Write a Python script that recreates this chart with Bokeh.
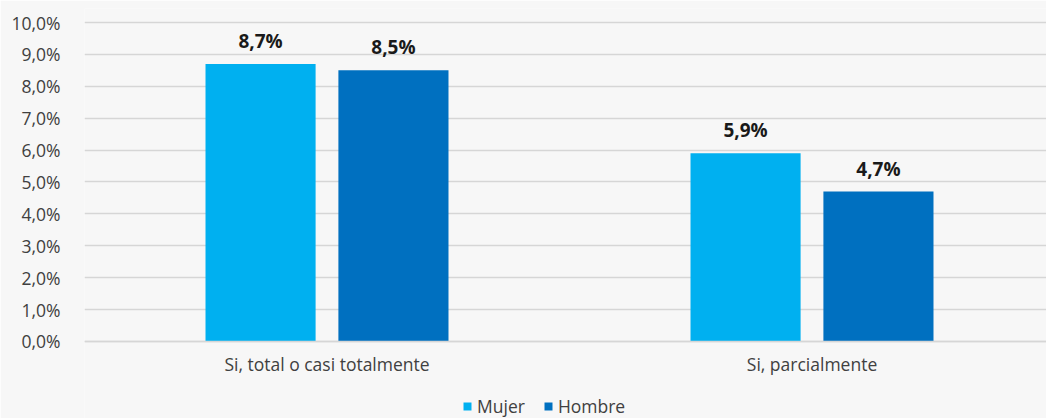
from bokeh.plotting import figure
from bokeh.models import ColumnDataSource, FixedTicker, Legend, LegendItem, Range1d
from bokeh.core.properties import value
from bokeh.embed import file_html
from bokeh.resources import INLINE

categories = ["Si, total o casi totalmente", "Si, parcialmente"]
series_names = ["Mujer", "Hombre"]
mujer = [8.7, 5.9]
hombre = [8.5, 4.7]
label_mujer = ["8,7%", "5,9%"]
label_hombre = ["8,5%", "4,7%"]
y_ticks = [0, 1, 2, 3, 4, 5, 6, 7, 8, 9, 10]
y_tick_labels = ["0,0%", "1,0%", "2,0%", "3,0%", "4,0%", "5,0%", "6,0%", "7,0%", "8,0%", "9,0%", "10,0%"]
colors = ["#00b0f0", "#0070c0"]

BG = "#f7f7f7"
FONT = "Open Sans"
TXT = "#404040"

n = len(categories)
centers = [i + 0.5 for i in range(n)]
bar_w = 0.227
offset = 0.137

p = figure(width=1046, height=418, output_backend="svg", toolbar_location=None,
           x_range=Range1d(0, 1.9835), y_range=Range1d(-2.414, 10.439),
           background_fill_color=BG, border_fill_color=BG,
           min_border_left=84, min_border_right=0, min_border_top=8, min_border_bottom=0,
           outline_line_color=None)

src_m = ColumnDataSource(dict(x=[c - offset for c in centers], top=mujer, lab=label_mujer))
src_h = ColumnDataSource(dict(x=[c + offset for c in centers], top=hombre, lab=label_hombre))

r_m = p.vbar(x="x", top="top", width=bar_w, source=src_m, fill_color=colors[0], line_color=None)
r_h = p.vbar(x="x", top="top", width=bar_w, source=src_h, fill_color=colors[1], line_color=None)

for src in (src_m, src_h):
    p.text(x="x", y="top", text="lab", source=src, text_align="center", text_baseline="alphabetic",
           y_offset=-23, text_font=value(FONT), text_font_size="19px", text_font_style="bold",
           text_color="#1a1a1a")

# grid
p.xgrid.grid_line_color = None
p.ygrid.grid_line_color = "#d6d6d6"
p.ygrid.grid_line_width = 1.5
p.ygrid.ticker = FixedTicker(ticks=y_ticks)

# y axis
p.yaxis.ticker = FixedTicker(ticks=y_ticks)
p.yaxis.major_label_overrides = {t: l for t, l in zip(y_ticks, y_tick_labels)}
p.yaxis.axis_line_color = None
p.yaxis.major_tick_line_color = None
p.yaxis.minor_tick_line_color = None
p.yaxis.major_label_standoff = 18
p.yaxis.major_label_text_font = FONT
p.yaxis.major_label_text_font_size = "17.5px"
p.yaxis.major_label_text_color = TXT

# x axis (fixed at y = 0, inside frame)
p.xaxis.fixed_location = 0
p.xaxis.ticker = FixedTicker(ticks=centers)
p.xaxis.major_label_overrides = {c: l for c, l in zip(centers, categories)}
p.xaxis.axis_line_color = "#d6d6d6"
p.xaxis.axis_line_width = 1.5
p.xaxis.major_tick_line_color = None
p.xaxis.minor_tick_line_color = None
p.xaxis.major_label_standoff = 5
p.xaxis.major_label_text_font = FONT
p.xaxis.major_label_text_font_size = "17.5px"
p.xaxis.major_label_text_color = TXT

legend = Legend(items=[LegendItem(label=series_names[0], renderers=[r_m]),
                       LegendItem(label=series_names[1], renderers=[r_h])],
                orientation="horizontal", location=(378, 0),
                background_fill_alpha=0, border_line_color=None,
                glyph_width=10, glyph_height=10, label_standoff=5, spacing=18,
                padding=0, margin=0, label_text_font=FONT, label_text_font_size="17.5px",
                label_text_color=TXT, label_height=16)
p.add_layout(legend, "center")

open("out.html", "w").write(file_html(p, INLINE))
